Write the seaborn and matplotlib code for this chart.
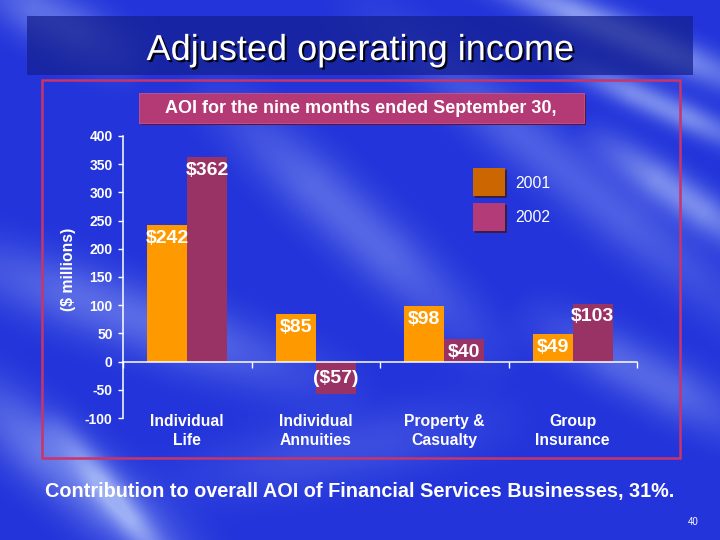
import numpy as np
import pandas as pd
import matplotlib
matplotlib.use("Agg")
import matplotlib.pyplot as plt
import matplotlib.patheffects as pe
from matplotlib.patches import Rectangle
from matplotlib.transforms import blended_transform_factory
import seaborn as sns

# ---------------- data ----------------
categories = ["Individual\nLife", "Individual\nAnnuities", "Property &\nCasualty", "Group\nInsurance"]
years = ["2001", "2002"]
aoi_2001 = [242, 85, 98, 49]
aoi_2002 = [362, -57, 40, 103]
y_ticks = list(range(-100, 401, 50))

title = "Adjusted operating income"
subtitle = "AOI for the nine months ended September 30,"
y_label = "($ millions)"
footer = "Contribution to overall AOI of Financial Services Businesses, 31%."
page_no = "40"

bar_colors = ["#FF9900", "#993366"]
legend_colors = ["#CC6600", "#B33C78"]

df = pd.DataFrame({
    "category": categories * 2,
    "year": [years[0]] * len(categories) + [years[1]] * len(categories),
    "aoi": aoi_2001 + aoi_2002,
})

sns.set_theme(style="white")
plt.rcParams["font.family"] = ["Liberation Sans", "DejaVu Sans"]

W, H = 720, 540
fig = plt.figure(figsize=(7.2, 5.4), dpi=100)

# ---------------- background ----------------
bg = fig.add_axes([0, 0, 1, 1])
bg.set_axis_off()
yy, xx = np.mgrid[0:H, 0:W].astype(float)
base = np.array([34, 52, 218], float) / 255.0
img = np.ones((H, W, 3)) * base


def band(p0, p1, w, amp):
    (x0, y0), (x1, y1) = p0, p1
    dx, dy = x1 - x0, y1 - y0
    L = np.hypot(dx, dy)
    d = np.abs((xx - x0) * dy - (yy - y0) * dx) / L
    t = ((xx - x0) * dx + (yy - y0) * dy) / (L * L)
    along = np.clip(1.3 - np.abs(t - 0.5) * 2.0, 0, 1)
    return amp * np.exp(-(d / w) ** 2) * along


light = np.zeros((H, W))
# upper right streaks
light += band((470, -30), (760, 90), 18, 0.6)
light += band((560, 60), (760, 150), 15, 0.5)
light += band((600, 140), (760, 250), 20, 0.5)
light += band((380, 20), (760, 330), 30, 0.25)
# middle diagonal sweep
light += band((220, 100), (480, 340), 32, 0.3)
light += band((540, 320), (750, 430), 28, 0.3)
# left side sweeps
light += band((-60, 250), (320, 380), 34, 0.32)
light += band((-40, 380), (190, 570), 34, 0.4)
light += band((60, 430), (170, 570), 15, 0.4)
light += band((-20, -20), (130, 60), 28, 0.35)
light += band((180, 480), (500, 420), 34, 0.15)
light = np.clip(light, 0, 0.72)
white = np.array([0.80, 0.87, 1.0])
img = img + light[..., None] * (white - img)
img = np.clip(img, 0, 1)
bg.imshow(img, extent=[0, W, H, 0], aspect="auto", interpolation="bilinear")
bg.set_xlim(0, W)
bg.set_ylim(H, 0)

# title box
bg.add_patch(Rectangle((27, 16), 666, 59, facecolor="#14208f", alpha=0.72, edgecolor="none"))
bg.text(360, 60, title, ha="center", va="baseline", fontsize=26, color="white",
        path_effects=[pe.withSimplePatchShadow(offset=(1.5, -1.5), shadow_rgbFace="black", alpha=0.9)])

# red frame
bg.add_patch(Rectangle((42, 80), 638, 378, facecolor="none", edgecolor="#CC3366", linewidth=1.8))

# subtitle box
bg.add_patch(Rectangle((141, 95), 445, 30, facecolor="#5a1438", edgecolor="none"))
bg.add_patch(Rectangle((139, 93), 445, 30, facecolor="#B33A75", edgecolor="#C75590", linewidth=0.6))
bg.text(361, 108.5, subtitle, ha="center", va="center", fontsize=13, fontweight="bold", color="white")

# legend (manual squares)
for i, (lab, col) in enumerate(zip(years, legend_colors)):
    y0 = 168 + i * 35
    bg.add_patch(Rectangle((475, y0 + 2), 32, 28, facecolor="#3a1a20", edgecolor="none", alpha=0.8))
    bg.add_patch(Rectangle((473, y0), 32, 28, facecolor=col, edgecolor="none"))
    bg.text(515, y0 + 15, lab, ha="left", va="center", fontsize=11.3, color="white")

# footer / page number / y label
bg.text(360, 491, footer, ha="center", va="center", fontsize=14.3, fontweight="bold", color="white")
bg.text(699, 522, page_no, ha="right", va="center", fontsize=7, color="white")
bg.text(68, 269, y_label, ha="center", va="center", rotation=90, fontsize=11.3, fontweight="bold", color="white")

# ---------------- chart ----------------
ax = fig.add_axes([123 / W, 1 - 418 / H, (637 - 123) / W, (418 - 136) / H])
ax.patch.set_alpha(0)
sns.barplot(data=df, x="category", y="aoi", hue="year", palette=bar_colors, width=0.62,
            saturation=1, linewidth=0, legend=False, ax=ax)
ax.set_xlim(-0.5, len(categories) - 0.5)
ax.set_ylim(y_ticks[0], y_ticks[-1])
ax.set_yticks(y_ticks)
ax.set_yticklabels([str(t) for t in y_ticks], fontsize=10, fontweight="bold", color="white")
ax.tick_params(axis="y", direction="out", length=3.5, width=1, color="white", pad=4, left=True)
ax.set_xticks(np.arange(-0.5, len(categories), 1.0))
ax.set_xticklabels([""] * (len(categories) + 1))
ax.tick_params(axis="x", direction="out", length=4, width=1, color="white", bottom=True)
ax.set_xlabel("")
ax.set_ylabel("")
for s in ["top", "right"]:
    ax.spines[s].set_visible(False)
ax.spines["left"].set_color("white")
ax.spines["left"].set_linewidth(1.1)
ax.spines["bottom"].set_color("white")
ax.spines["bottom"].set_linewidth(1.1)
ax.spines["bottom"].set_position(("data", 0))
ax.grid(False)

trans = blended_transform_factory(ax.transData, ax.transAxes)
for i, cat in enumerate(categories):
    ax.text(i, -0.047, cat, transform=trans, ha="center", va="center", fontsize=11.3,
            fontweight="bold", color="white", linespacing=1.3)

for cont, vals in zip(ax.containers, [aoi_2001, aoi_2002]):
    for bar, v in zip(cont, vals):
        xc = bar.get_x() + bar.get_width() / 2
        lab = f"${v}" if v >= 0 else f"(${-v})"
        if v >= 0:
            ax.annotate(lab, xy=(xc, v), xytext=(0, -3.5), textcoords="offset points",
                        ha="center", va="top", fontsize=14, fontweight="bold", color="white")
        else:
            ax.annotate(lab, xy=(xc, v), xytext=(0, 5), textcoords="offset points",
                        ha="center", va="bottom", fontsize=14, fontweight="bold", color="white")

fig.savefig("out.png", dpi=100)
